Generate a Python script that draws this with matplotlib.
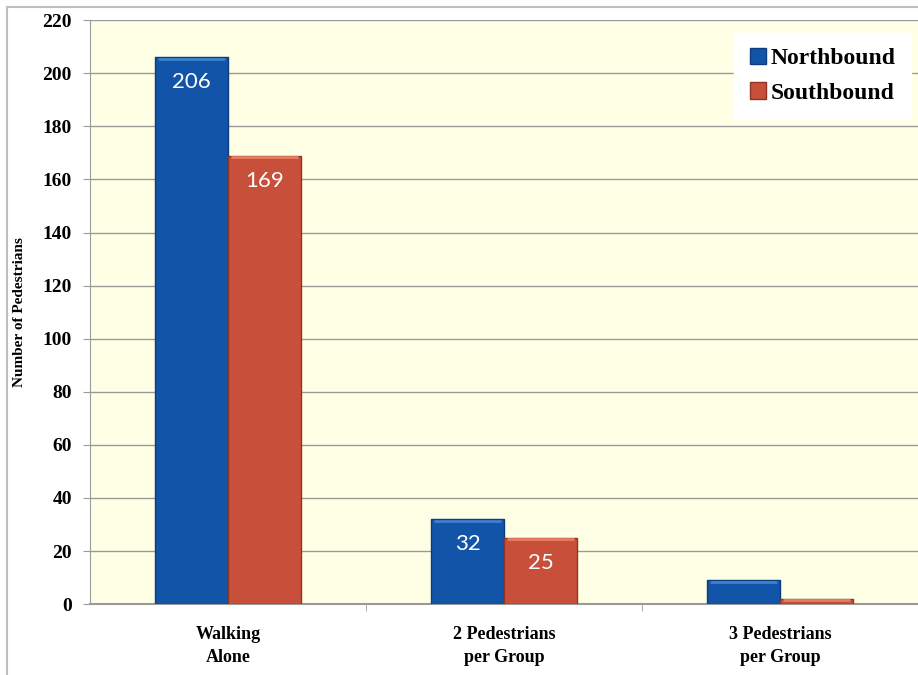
import numpy as np
import matplotlib
matplotlib.use('Agg')
import matplotlib.pyplot as plt
from matplotlib.patches import Rectangle

categories = ['Walking\nAlone', '2 Pedestrians\nper Group', '3 Pedestrians\nper Group']
northbound = [206, 32, 9]
southbound = [169, 25, 2]
labels_nb = ['206', '32', '']
labels_sb = ['169', '25', '']

serif = ['Liberation Serif', 'DejaVu Serif']

fig = plt.figure(figsize=(9.18, 6.75), dpi=100)
ax = fig.add_axes([0.098, 0.105, 0.902, 0.865])
ax.set_facecolor('#FFFFE6')

x = np.arange(len(categories))
w = 0.265
b1 = ax.bar(x - w / 2, northbound, w, color='#1255A8', edgecolor='#0B3D7E',
            linewidth=1.0, label='Northbound', zorder=3)
b2 = ax.bar(x + w / 2, southbound, w, color='#C8503A', edgecolor='#8E3424',
            linewidth=1.0, label='Southbound', zorder=3)

# light strip along the top of each bar (bevel look)
for bars, col in ((b1, '#3F7FCF'), (b2, '#E77C63')):
    for r in bars:
        ax.plot([r.get_x() + 0.01, r.get_x() + r.get_width() - 0.01],
                [r.get_height() - 0.6, r.get_height() - 0.6],
                color=col, lw=2, zorder=4, solid_capstyle='butt')

for bars, labs in ((b1, labels_nb), (b2, labels_sb)):
    for r, t in zip(bars, labs):
        if t:
            ax.annotate(t, (r.get_x() + r.get_width() / 2, r.get_height()),
                        xytext=(0, -18), textcoords='offset points',
                        ha='center', va='center', color='white',
                        fontsize=16, family=['Lato', 'DejaVu Sans'], zorder=5)

ax.set_xlim(-0.5, 2.5)
ax.set_ylim(0, 220)
ax.set_yticks(range(0, 221, 20))
ax.yaxis.grid(True, color='#9A9A9A', linewidth=1.0, zorder=0)
ax.set_xticks(x)
ax.set_xticklabels(categories, fontsize=13, fontweight='bold', family=serif,
                   linespacing=1.45)
ax.set_xticks([0.5, 1.5], minor=True)
ax.tick_params(axis='x', which='major', length=0, pad=16)
ax.tick_params(axis='x', which='minor', length=5, color='#9A9A9A')
ax.tick_params(axis='y', length=5, color='#9A9A9A', pad=8)
for lab in ax.get_yticklabels():
    lab.set_fontsize(14)
    lab.set_fontweight('bold')
    lab.set_family(serif)

for s in ('top', 'right'):
    ax.spines[s].set_visible(False)
ax.spines['left'].set_color('#9A9A9A')
ax.spines['bottom'].set_color('#9A9A9A')
ax.spines['bottom'].set_linewidth(1.5)

ax.set_ylabel('Number of Pedestrians', fontsize=11, fontweight='bold',
              family=serif, labelpad=12)

leg = ax.legend(loc='upper right', bbox_to_anchor=(0.992, 0.979),
                prop={'family': serif, 'weight': 'bold', 'size': 17},
                frameon=True, fancybox=False, handlelength=0.7,
                handleheight=0.7, handletextpad=0.2, borderpad=0.65,
                labelspacing=0.55, borderaxespad=0)
leg.get_frame().set_edgecolor('white')
leg.get_frame().set_facecolor('white')
leg.get_frame().set_alpha(1)

# outer chart border
fig.patches.append(Rectangle((0.008, -0.01), 1.0, 1.0, transform=fig.transFigure,
                             fill=False, edgecolor='#BFBFBF', linewidth=1.5))

fig.savefig('out.png', dpi=100)
